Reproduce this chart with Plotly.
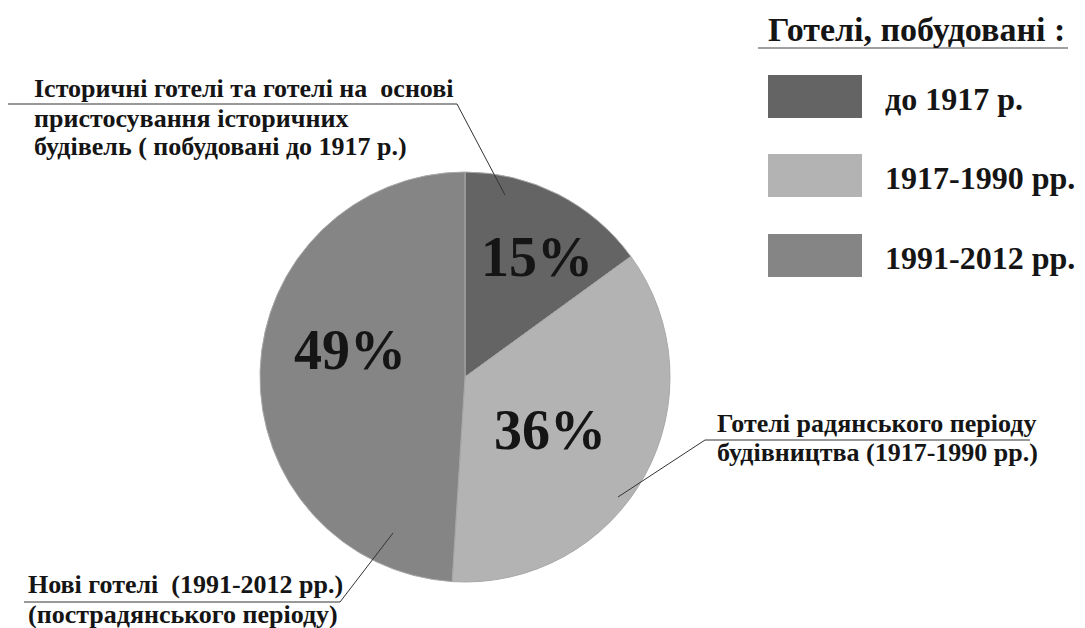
import math
import plotly.graph_objects as go

# ---------------- data ----------------
categories = ["до 1917 р.", "1917-1990 рр.", "1991-2012 рр."]
values = [15, 36, 49]
slice_colors = ["#646464", "#b3b3b3", "#858585"]
legend_title = "Готелі, побудовані :"
callout_lines = [
    ["Історичні готелі та готелі на  основі",
     "пристосування історичних",
     "будівель ( побудовані до 1917 р.)"],
    ["Готелі радянського періоду",
     "будівництва (1917-1990 рр.)"],
    ["Нові готелі  (1991-2012 рр.)",
     "(пострадянського періоду)"],
]

# ---------------- layout helpers (reference pixel -> paper) ----------------
OFF = 8                      # default page margin around the plot div
W, H = 1085 - OFF, 628 - OFF
CX, CY, R = 465, 377, 205
FONT = "Liberation Serif, Times New Roman, serif"


def px(x):
    return (x - OFF) / W


def py(y):
    return 1 - (y - OFF) / H


fig = go.Figure()
fig.add_trace(go.Pie(
    labels=categories,
    values=values,
    sort=False,
    direction="clockwise",
    rotation=0,
    textinfo="none",
    hoverinfo="label+percent",
    marker=dict(colors=slice_colors, line=dict(color="#a8a8a8", width=1)),
    showlegend=False,
    domain=dict(x=[px(CX - R), px(CX + R)], y=[py(CY + R), py(CY - R)]),
))

annotations = []
shapes = []

# percentage labels placed from slice mid-angles
total = sum(values)
label_r = [0.683, 0.489, 0.576]      # radial position factor (style)
label_shift = [4.0, 3.2, 11.4]      # angular nudge in degrees (style)
cum = 0
for i, v in enumerate(values):
    mid = (cum + v / 2) / total * 360 + label_shift[i]
    cum += v
    rr = R * label_r[i]
    x = CX + rr * math.sin(math.radians(mid))
    y = CY - rr * math.cos(math.radians(mid))
    annotations.append(dict(
        x=px(x), y=py(y), xref="paper", yref="paper",
        text=f"<b>{round(v / total * 100)}%</b>", showarrow=False,
        xanchor="center", yanchor="middle",
        font=dict(family=FONT, size=56, color="#151515"),
    ))

# callout texts
callout_pos = [
    (32, [88, 118, 147], 26),
    (715, [423, 452], 26),
    (26, [584, 614], 26),
]
for lines, (x0, ys, fs) in zip(callout_lines, callout_pos):
    for t, yy in zip(lines, ys):
        annotations.append(dict(
            x=px(x0), y=py(yy), xref="paper", yref="paper",
            text=f"<b>{t}</b>", showarrow=False,
            xanchor="left", yanchor="middle",
            font=dict(family=FONT, size=fs, color="#151515"),
        ))

# leader lines
leaders = [
    [(8, 104), (457, 104), (505, 195)],
    [(1030, 440), (705, 440), (618, 497)],
    [(24, 602), (340, 602), (393, 533)],
]
for pts in leaders:
    for (xa, ya), (xb, yb) in zip(pts[:-1], pts[1:]):
        shapes.append(dict(
            type="line", xref="paper", yref="paper",
            x0=px(xa), y0=py(ya), x1=px(xb), y1=py(yb),
            line=dict(color="#333333", width=1),
        ))

# custom legend
annotations.append(dict(
    x=px(766), y=py(29), xref="paper", yref="paper",
    text=f"<b>{legend_title}</b>", showarrow=False,
    xanchor="left", yanchor="middle",
    font=dict(family=FONT, size=34, color="#151515"),
))
shapes.append(dict(
    type="line", xref="paper", yref="paper",
    x0=px(758), y0=py(48), x1=px(1068), y1=py(48),
    line=dict(color="#808080", width=1.5),
))
sw_top = [75, 154, 234]
for cat, col, top in zip(categories, slice_colors, sw_top):
    shapes.append(dict(
        type="rect", xref="paper", yref="paper",
        x0=px(768), x1=px(862), y0=py(top), y1=py(top + 43),
        fillcolor=col, line=dict(width=0),
    ))
    annotations.append(dict(
        x=px(883), y=py(top + 24), xref="paper", yref="paper",
        text=f"<b>{cat}</b>", showarrow=False,
        xanchor="left", yanchor="middle",
        font=dict(family=FONT, size=32, color="#151515"),
    ))

fig.update_layout(
    width=W, height=H,
    margin=dict(l=0, r=0, t=0, b=0),
    paper_bgcolor="white", plot_bgcolor="white",
    annotations=annotations, shapes=shapes,
    showlegend=False,
)

fig.write_html("out.html")
